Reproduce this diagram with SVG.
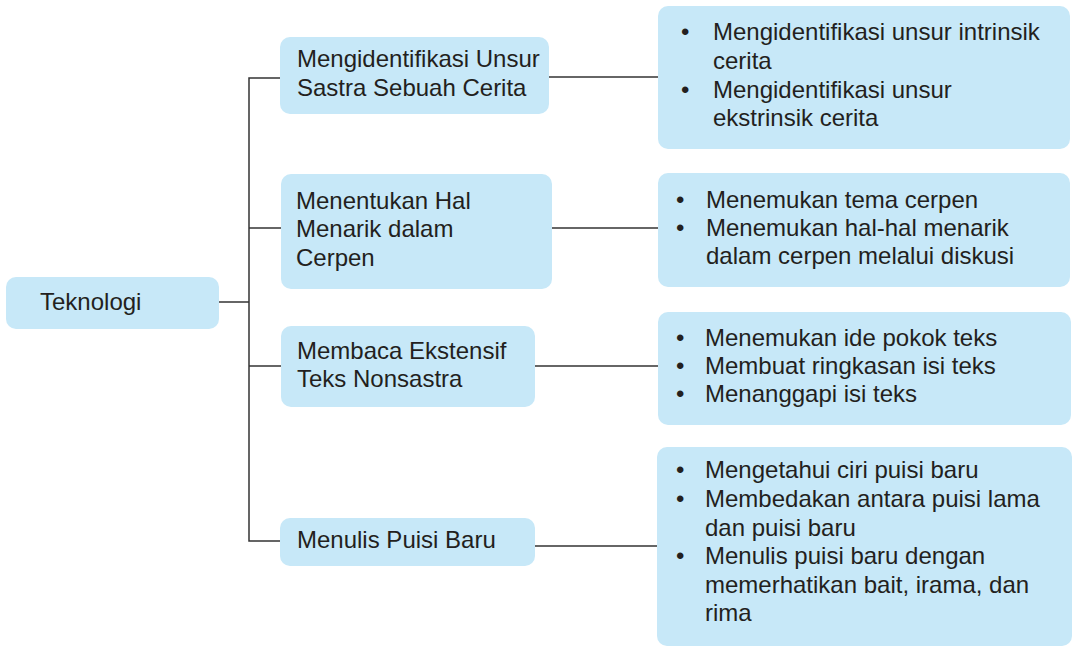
<svg xmlns="http://www.w3.org/2000/svg" width="1074" height="650" viewBox="0 0 1074 650">
<style>
.box{fill:#C7E8F8;}
.t{font-family:"Liberation Sans",Arial,sans-serif;font-size:24px;fill:#231F20;}
.ln{stroke:#333;stroke-width:1.5;fill:none;}
</style>
<rect width="1074" height="650" fill="#fff"/>
<g id="connectors">
<line class="ln" x1="219" y1="302" x2="249" y2="302"/>
<polyline class="ln" points="280,78 249,78 249,541 280,541"/>
<line class="ln" x1="249" y1="228" x2="281" y2="228"/>
<line class="ln" x1="249" y1="366" x2="281" y2="366"/>
<line class="ln" x1="549" y1="77" x2="658" y2="77"/>
<line class="ln" x1="552" y1="228" x2="658" y2="228"/>
<line class="ln" x1="535" y1="366" x2="658" y2="366"/>
<line class="ln" x1="535" y1="546" x2="658" y2="546"/>
</g>
<g id="n-teknologi">
<rect class="box" x="6" y="277" width="213" height="52" rx="10"/>
<text class="t" x="40" y="310">Teknologi</text>
</g>
<g id="n-1">
<rect class="box" x="280" y="37" width="269" height="77" rx="10"/>
<text class="t" x="297" y="67">Mengidentifikasi Unsur</text>
<text class="t" x="297" y="96">Sastra Sebuah Cerita</text>
</g>
<g id="n-2">
<rect class="box" x="281" y="174" width="271" height="115" rx="10"/>
<text class="t" x="296" y="209">Menentukan Hal</text>
<text class="t" x="296" y="237">Menarik dalam</text>
<text class="t" x="296" y="266">Cerpen</text>
</g>
<g id="n-3">
<rect class="box" x="281" y="326" width="254" height="81" rx="10"/>
<text class="t" x="297" y="359">Membaca Ekstensif</text>
<text class="t" x="297" y="387">Teks Nonsastra</text>
</g>
<g id="n-4">
<rect class="box" x="280" y="518" width="255" height="48" rx="10"/>
<text class="t" x="297" y="548">Menulis Puisi Baru</text>
</g>
<g id="d-1">
<rect class="box" x="658" y="6" width="412" height="143" rx="10"/>
<text class="t" x="681" y="40">•</text>
<text class="t" x="713" y="40">Mengidentifikasi unsur intrinsik</text>
<text class="t" x="713" y="69">cerita</text>
<text class="t" x="681" y="98">•</text>
<text class="t" x="713" y="98">Mengidentifikasi unsur</text>
<text class="t" x="713" y="126">ekstrinsik cerita</text>
</g>
<g id="d-2">
<rect class="box" x="658" y="173" width="412" height="114" rx="10"/>
<text class="t" x="676" y="208">•</text>
<text class="t" x="706" y="208">Menemukan tema cerpen</text>
<text class="t" x="676" y="236">•</text>
<text class="t" x="706" y="236">Menemukan hal-hal menarik</text>
<text class="t" x="706" y="264">dalam cerpen melalui diskusi</text>
</g>
<g id="d-3">
<rect class="box" x="658" y="312" width="413" height="113" rx="10"/>
<text class="t" x="676" y="346">•</text>
<text class="t" x="705" y="346">Menemukan ide pokok teks</text>
<text class="t" x="676" y="374">•</text>
<text class="t" x="705" y="374">Membuat ringkasan isi teks</text>
<text class="t" x="676" y="402">•</text>
<text class="t" x="705" y="402">Menanggapi isi teks</text>
</g>
<g id="d-4">
<rect class="box" x="657" y="447" width="415" height="199" rx="10"/>
<text class="t" x="676" y="478">•</text>
<text class="t" x="705" y="478">Mengetahui ciri puisi baru</text>
<text class="t" x="676" y="507">•</text>
<text class="t" x="705" y="507">Membedakan antara puisi lama</text>
<text class="t" x="705" y="536">dan puisi baru</text>
<text class="t" x="676" y="564">•</text>
<text class="t" x="705" y="564">Menulis puisi baru dengan</text>
<text class="t" x="705" y="593">memerhatikan bait, irama, dan</text>
<text class="t" x="705" y="621">rima</text>
</g>
</svg>
